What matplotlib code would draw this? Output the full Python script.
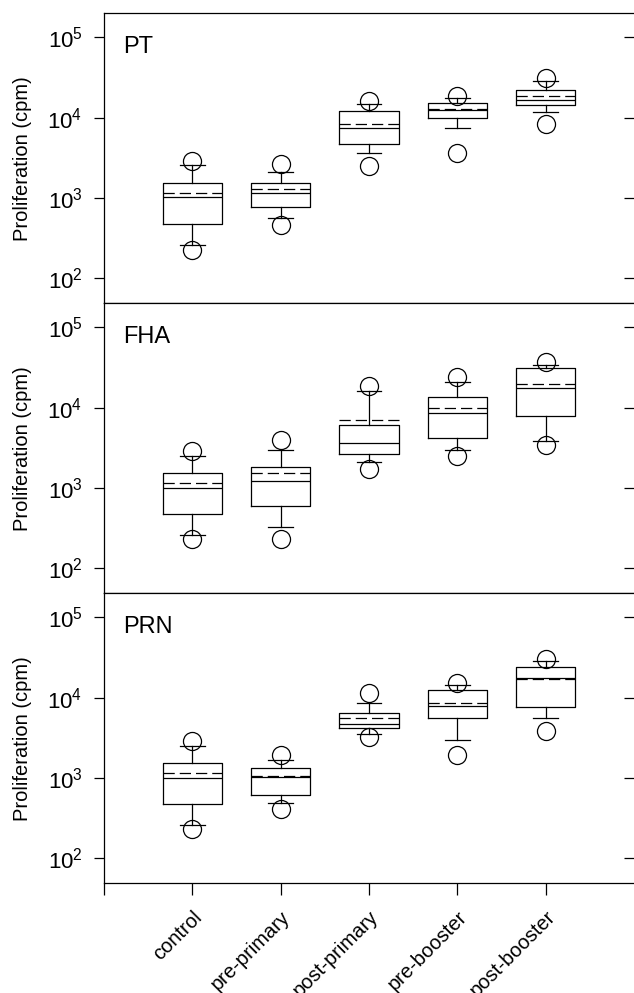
import matplotlib

matplotlib.use("Agg")
import matplotlib.pyplot as plt
from matplotlib.ticker import NullLocator

plt.rcParams["font.family"] = ["Liberation Sans", "DejaVu Sans"]

groups = ["control", "pre-primary", "post-primary", "pre-booster", "post-booster"]
panels = ["PT", "FHA", "PRN"]

# PT: 5th / 10th / 25th / median / mean / 75th / 90th / 95th percentiles (cpm)
pt_p5 = [222, 457, 2477, 3660, 8410]
pt_p10 = [257, 562, 3620, 7360, 11640]
pt_q1 = [469, 757, 4740, 9800, 14510]
pt_med = [1009, 1130, 7360, 12560, 16400]
pt_mean = [1150, 1268, 8325, 12940, 18400]
pt_q3 = [1535, 1520, 11970, 15200, 21880]
pt_p90 = [2525, 2084, 14930, 17540, 28300]
pt_p95 = [2884, 2618, 16100, 18400, 31500]

# FHA
fha_p5 = [230, 230, 1726, 2470, 3450]
fha_p10 = [259, 320, 2065, 2930, 3860]
fha_q1 = [468, 593, 2670, 4220, 7890]
fha_med = [1003, 1200, 3620, 8510, 17700]
fha_mean = [1143, 1520, 6900, 9840, 19500]
fha_q3 = [1520, 1806, 5980, 13690, 30800]
fha_p90 = [2518, 2990, 16100, 20650, 34500]
fha_p95 = [2850, 3900, 18740, 24210, 37200]

# PRN
prn_p5 = [230, 405, 3230, 1910, 3800]
prn_p10 = [259, 485, 3550, 2990, 5560]
prn_q1 = [468, 606, 4180, 5560, 7600]
prn_med = [1003, 1020, 4630, 7890, 17700]
prn_mean = [1143, 1040, 5600, 8670, 16900]
prn_q3 = [1520, 1318, 6340, 12450, 23820]
prn_p90 = [2518, 1655, 8590, 14350, 28500]
prn_p95 = [2850, 1910, 11320, 15350, 30200]

ytick_values = [1e2, 1e3, 1e4, 1e5]
ytick_labels = [r"$\mathregular{10^{2}}$", r"$\mathregular{10^{3}}$",
                r"$\mathregular{10^{4}}$", r"$\mathregular{10^{5}}$"]


def make_stats(p5, p10, q1, med, mean, q3, p90, p95):
    stats = []
    for i in range(len(med)):
        stats.append({
            "whislo": p10[i], "q1": q1[i], "med": med[i], "mean": mean[i],
            "q3": q3[i], "whishi": p90[i], "fliers": [p5[i], p95[i]],
        })
    return stats


panel_stats = [
    make_stats(pt_p5, pt_p10, pt_q1, pt_med, pt_mean, pt_q3, pt_p90, pt_p95),
    make_stats(fha_p5, fha_p10, fha_q1, fha_med, fha_mean, fha_q3, fha_p90, fha_p95),
    make_stats(prn_p5, prn_p10, prn_q1, prn_med, prn_mean, prn_q3, prn_p90, prn_p95),
]

W, H = 634, 993
fig = plt.figure(figsize=(W / 100, H / 100), dpi=100)

lw = 0.9
line = dict(color="black", linewidth=lw)
left_px, right_px = 104, 634
panel_h = 290
top_px = 13.3
ylo, yhi = 10 ** 1.681, 10 ** 5.302

axes = []
for k, (name, stats) in enumerate(zip(panels, panel_stats)):
    y0 = top_px + k * panel_h
    ax = fig.add_axes([left_px / W, 1 - (y0 + panel_h) / H,
                       (right_px - left_px) / W, panel_h / H])
    ax.set_yscale("log")
    ax.bxp(
        stats,
        positions=range(1, len(groups) + 1),
        widths=0.67,
        capwidths=0.28,
        showmeans=True,
        meanline=True,
        manage_ticks=False,
        boxprops=line,
        whiskerprops=line,
        capprops=line,
        medianprops=line,
        meanprops=dict(color="black", linewidth=lw, linestyle=(0, (9, 4))),
        flierprops=dict(marker="o", markerfacecolor="none", markeredgecolor="black",
                        markersize=13, markeredgewidth=lw),
    )
    ax.set_xlim(0, 6)
    ax.set_ylim(ylo, yhi)
    ax.set_yticks(ytick_values)
    ax.set_yticklabels(ytick_labels)
    ax.yaxis.set_minor_locator(NullLocator())
    ax.tick_params(axis="y", which="major", direction="out", length=7.5, width=lw,
                   pad=8, labelsize=16, right=False)
    for side in ["top", "bottom", "left"]:
        ax.spines[side].set_linewidth(lw)
    ax.spines["right"].set_visible(False)
    ax.set_ylabel("Proliferation (cpm)", fontsize=14.5)
    ax.yaxis.set_label_coords(-0.1364, 0.5)
    ax.text(0.036, 0.862, name, transform=ax.transAxes, fontsize=17,
            ha="left", va="baseline")

    # inward ticks on the right side
    ax_r = ax.twinx()
    ax_r.set_yscale("log")
    ax_r.set_ylim(ylo, yhi)
    ax_r.set_yticks(ytick_values)
    ax_r.yaxis.set_minor_locator(NullLocator())
    ax_r.tick_params(axis="y", which="major", direction="in", length=7.2, width=lw,
                     labelright=False)
    for s in ax_r.spines.values():
        s.set_visible(False)

    if k < len(panels) - 1:
        ax.tick_params(axis="x", bottom=False, labelbottom=False)
    axes.append(ax)

ax = axes[-1]
ax.set_xticks(range(0, len(groups) + 1))
ax.set_xticklabels([""] + groups)
ax.tick_params(axis="x", direction="out", length=8.6, width=lw, pad=8.6, labelsize=14.5)
for lab in ax.get_xticklabels():
    lab.set_rotation(45)
    lab.set_ha("right")
    lab.set_va("top")
    lab.set_rotation_mode("anchor")

fig.savefig("out.png", dpi=100)
